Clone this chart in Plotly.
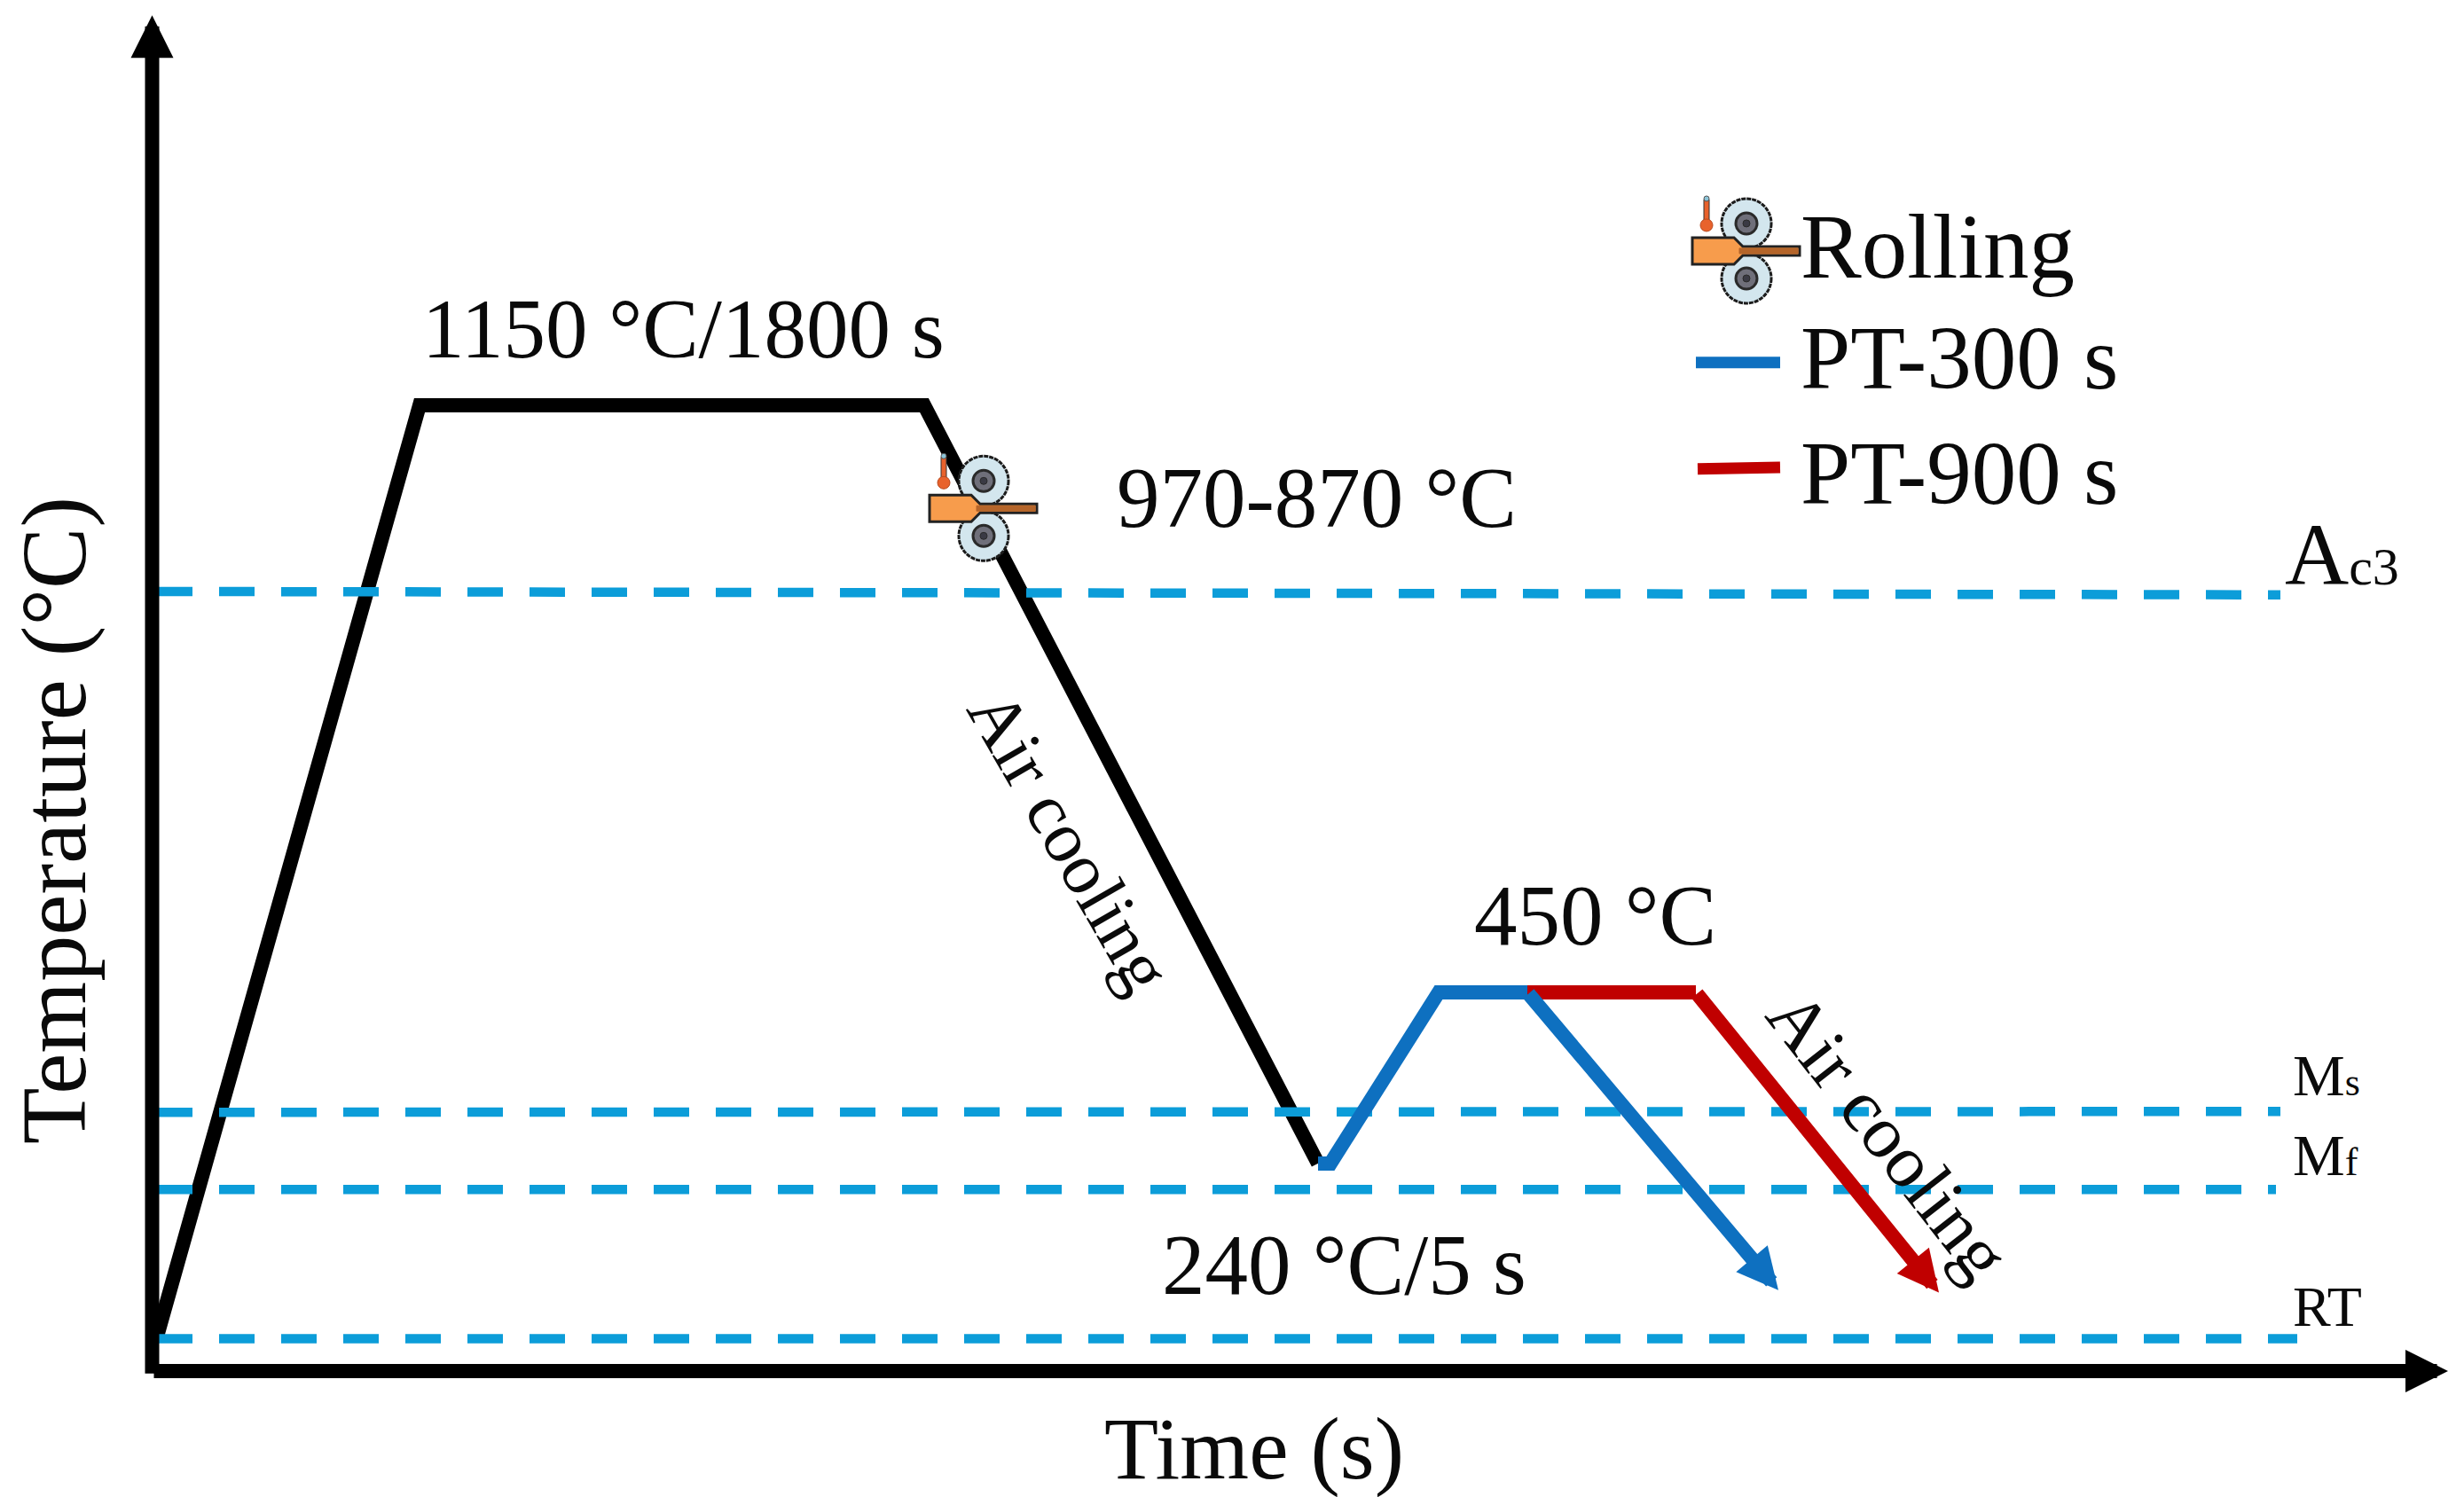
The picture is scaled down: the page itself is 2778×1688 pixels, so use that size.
import plotly.graph_objects as go

heat_t = [176, 473, 1042, 1486]
heat_T = [36, 1150, 1150, 246]

pt300_t = [1486, 1500, 1622, 1722]
pt300_T = [246, 246, 450, 450]
pt300_end = (2005, 95)

pt900_t = [1722, 1912]
pt900_T = [450, 450]
pt900_end = (2186, 92)

# critical temperatures: name, (t start, t end), (T start, T end)
ac3_t, ac3_T = [177, 2571], [928, 924]
ms_t, ms_T = [177, 2571], [307, 308]
mf_t, mf_T = [177, 2566], [215, 215]
rt_t, rt_T = [177, 2590], [37, 37]

legend_blue_t, legend_blue_T = [1912, 2007], [1201, 1201]
legend_red_t, legend_red_T = [1914, 2007], [1074, 1076]

FONT = "Liberation Serif"
BLACK = "#000000"
BLUE = "#0E70C0"
RED = "#C00000"
DASH = "#0C9DD9"

fig = go.Figure()


def add_line(t, T, color, width, dash=None):
    fig.add_trace(go.Scatter(x=t, y=T, mode="lines", showlegend=False, hoverinfo="skip",
                             line=dict(color=color, width=width, dash=dash)))


def add_arrow(start, end, color, size=0.58):
    fig.add_annotation(x=end[0], y=end[1], ax=start[0], ay=start[1], xref="x", yref="y",
                       axref="x", ayref="y", text="", showarrow=True, arrowhead=2,
                       arrowsize=size, arrowwidth=16, arrowcolor=color)


def add_text(t, T, text, size, angle=0, anchor="center"):
    fig.add_annotation(x=t, y=T, xref="x", yref="y", text=text, showarrow=False,
                       textangle=angle, xanchor=anchor, yanchor="middle",
                       font=dict(family=FONT, size=size, color="#0a0a0a"))


def add_icon(cx, cy):
    # rolling mill icon, offsets in pixels around an anchor point on the chart
    def shape(**kw):
        fig.add_shape(xsizemode="pixel", ysizemode="pixel", xanchor=cx, yanchor=cy,
                      xref="x", yref="y", layer="above", **kw)

    def circle(dx, dy, r, fill, line, width=2, dash=None):
        shape(type="circle", x0=dx - r, x1=dx + r, y0=-dy - r, y1=-dy + r, fillcolor=fill,
              line=dict(color=line, width=width, dash=dash))

    def poly(points, fill, line, width=3):
        p = "M" + "L".join(f"{x},{-y}" for x, y in points) + "Z"
        shape(type="path", path=p, fillcolor=fill, line=dict(color=line, width=width))

    for dy in (-31, 31):
        circle(0, dy, 28, "#D3E6EE", "#1c1c1c", 3, "5px,1px")
        circle(0, dy, 12, "#6F6F7A", "#2a2a2a", 3)
        circle(0, dy, 4, "#3a3a44", "#2a2a2a", 1)
    poly([(-61, -15), (-14, -15), (-4, -5), (60, -5), (60, 5), (-4, 5), (-14, 15), (-61, 15)],
         "#F79C4C", "#222222")
    poly([(-8, -3), (58, -3), (58, 3), (-8, 3)], "#B5652A", "#B5652A", 1)
    poly([(-48, -58), (-42, -58), (-42, -32), (-48, -32)], "#E8622C", "#333333", 1)
    circle(-45, -29, 7, "#E8622C", "#B84A20", 1)
    circle(-45, -59, 3, "#8CC4D8", "#555555", 1)


# === curves ===
add_line(heat_t, heat_T, BLACK, 16)
for t, T in [(ac3_t, ac3_T), (ms_t, ms_T), (mf_t, mf_T), (rt_t, rt_T)]:
    add_line(t, T, DASH, 10.5, "40px,30px")
add_line(pt900_t, pt900_T, RED, 16)
add_line(pt300_t, pt300_T, BLUE, 16)
add_line(legend_blue_t, legend_blue_T, BLUE, 13)
add_line(legend_red_t, legend_red_T, RED, 13)

add_arrow((pt300_t[-1], pt300_T[-1]), pt300_end, BLUE)
add_arrow((pt900_t[-1], pt900_T[-1]), pt900_end, RED)

# axes with arrow heads
add_arrow((171.5, -6), (171.5, 1615), BLACK, 0.6)
add_arrow((172, -1.5), (2760, -1.5), BLACK, 0.6)

# === text ===
add_text(770, 1241, "1150 °C/1800 s", 95)
add_text(1484, 1040, "970-870 °C", 97)
add_text(1798, 541, "450 °C", 97)
add_text(1515, 125, "240 °C/5 s", 97)
add_text(1206, 630, "Air cooling", 82, angle=60)
add_text(2129, 280, "Air cooling", 84, angle=52)
add_text(2028, 1339, "Rolling", 103, anchor="left")
add_text(2028, 1206, "PT-300 s", 101, anchor="left")
add_text(2028, 1069, "PT-900 s", 101, anchor="left")
add_text(2574, 972, "A<span style='font-size:60px'>c3</span>", 100, anchor="left")
add_text(2583, 351, "M<span style='font-size:44px'>s</span>", 66, anchor="left")
add_text(2583, 256, "M<span style='font-size:44px'>f</span>", 66, anchor="left")
add_text(2583, 75, "RT", 64, anchor="left")
add_text(61, 655, "Temperature (°C)", 104, angle=-90)
add_text(1414, -94, "Time (s)", 100)

add_icon(1109, 1027)
add_icon(1969, 1334)

fig.update_layout(
    width=2778, height=1688, margin=dict(l=0, r=0, t=0, b=0),
    paper_bgcolor="white", plot_bgcolor="white", showlegend=False,
    xaxis=dict(range=[0, 2778], visible=False),
    yaxis=dict(range=[-151.7, 1633.2], visible=False),
)

fig.write_html("out.html", config={"displayModeBar": False},
               post_script="document.body.style.margin='0';")
